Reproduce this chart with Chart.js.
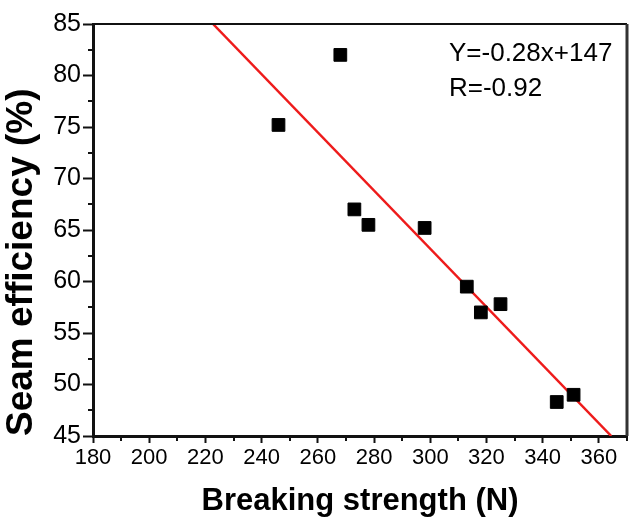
<!DOCTYPE html>
<html>
<head>
<meta charset="utf-8">
<script src="https://cdn.jsdelivr.net/npm/chart.js@4/dist/chart.umd.min.js"></script>
<style>
  html, body { margin: 0; padding: 0; background: #fff; }
  #wrap { width: 637px; height: 520px; }
</style>
</head>
<body>
<div id="wrap"><canvas id="c" width="637" height="520"></canvas></div>
<script>
// measured points (breaking strength N, seam efficiency %)
const strength = [246, 268, 273, 278, 298, 313, 318, 325, 345, 351];
const efficiency = [75.2, 82.0, 67.0, 65.5, 65.2, 59.5, 57.0, 57.8, 48.3, 49.0];

// fitted line end points, Y = -0.28x + 147
const fitX = [222.7, 364.4];
const fitY = [85, 45];

const xTicks = [180, 200, 220, 240, 260, 280, 300, 320, 340, 360];
const yTicks = [45, 50, 55, 60, 65, 70, 75, 80, 85];
const xMinor = [190, 210, 230, 250, 270, 290, 310, 330, 350, 370];
const yMinor = [47.5, 52.5, 57.5, 62.5, 67.5, 72.5, 77.5, 82.5];

const FONT = '"Liberation Sans", Arial, sans-serif';
const INK = '#000';

const frame = {
  id: 'frame',
  afterDraw(chart) {
    const { ctx, chartArea: a, scales: { x, y } } = chart;
    ctx.save();
    ctx.strokeStyle = '#111';
    // top and right edges of the box
    ctx.lineWidth = 2;
    ctx.beginPath(); ctx.moveTo(a.left, a.top); ctx.lineTo(a.right, a.top); ctx.stroke();
    ctx.lineWidth = 3;
    ctx.strokeStyle = '#333';
    ctx.beginPath(); ctx.moveTo(a.right, a.top); ctx.lineTo(a.right, a.bottom); ctx.stroke();
    // minor ticks
    ctx.strokeStyle = '#111';
    ctx.lineWidth = 2;
    xMinor.forEach(v => {
      const px = Math.round(x.getPixelForValue(v));
      ctx.beginPath(); ctx.moveTo(px, a.bottom); ctx.lineTo(px, a.bottom + 5); ctx.stroke();
    });
    yMinor.forEach(v => {
      const py = Math.round(y.getPixelForValue(v));
      ctx.beginPath(); ctx.moveTo(a.left, py); ctx.lineTo(a.left - 5, py); ctx.stroke();
    });
    // regression note
    ctx.fillStyle = INK;
    ctx.font = '26px ' + FONT;
    ctx.textAlign = 'left';
    ctx.textBaseline = 'alphabetic';
    ctx.fillText('Y=-0.28x+147', a.right - 178, a.top + 37);
    ctx.fillText('R=-0.92', a.right - 178, a.top + 72);
    ctx.restore();
  }
};

new Chart(document.getElementById('c'), {
  type: 'scatter',
  data: {
    datasets: [
      {
        type: 'line',
        data: fitX.map((v, i) => ({ x: v, y: fitY[i] })),
        borderColor: '#ee1b1b',
        borderWidth: 2.5,
        pointRadius: 0,
        fill: false,
        order: 2
      },
      {
        data: strength.map((v, i) => ({ x: v, y: efficiency[i] })),
        pointStyle: 'rect',
        pointRadius: 9,
        backgroundColor: '#000',
        borderColor: '#000',
        borderWidth: 1,
        order: 1
      }
    ]
  },
  options: {
    responsive: false,
    animation: false,
    devicePixelRatio: 1,
    layout: { padding: { top: 24, right: 3, left: 0, bottom: 0 } },
    plugins: { legend: { display: false }, tooltip: { enabled: false } },
    scales: {
      x: {
        type: 'linear', min: 180, max: 370,
        afterBuildTicks: s => { s.ticks = xTicks.map(v => ({ value: v })); },
        afterFit: s => { s.height = 84; },
        grid: { drawOnChartArea: false, tickLength: 7, tickWidth: 2, tickColor: '#111' },
        border: { width: 3, color: '#111' },
        ticks: { font: { size: 22, family: FONT }, color: INK, padding: 2, maxRotation: 0, autoSkip: false },
        title: { display: true, text: 'Breaking strength (N)', color: INK, padding: 0,
                 font: { size: 31, weight: 'bold', family: FONT } }
      },
      y: {
        type: 'linear', min: 45, max: 85,
        afterBuildTicks: s => { s.ticks = yTicks.map(v => ({ value: v })); },
        afterFit: s => { s.width = 93; },
        grid: { drawOnChartArea: false, tickLength: 10, tickWidth: 2, tickColor: '#111' },
        border: { width: 3, color: '#111' },
        ticks: { font: { size: 25, family: FONT }, color: INK, padding: 2, autoSkip: false },
        title: { display: true, text: 'Seam efficiency (%)', color: INK, padding: 0, align: 'start',
                 font: { size: 37, weight: 'bold', family: FONT } }
      }
    }
  },
  plugins: [frame]
});
</script>
</body>
</html>
